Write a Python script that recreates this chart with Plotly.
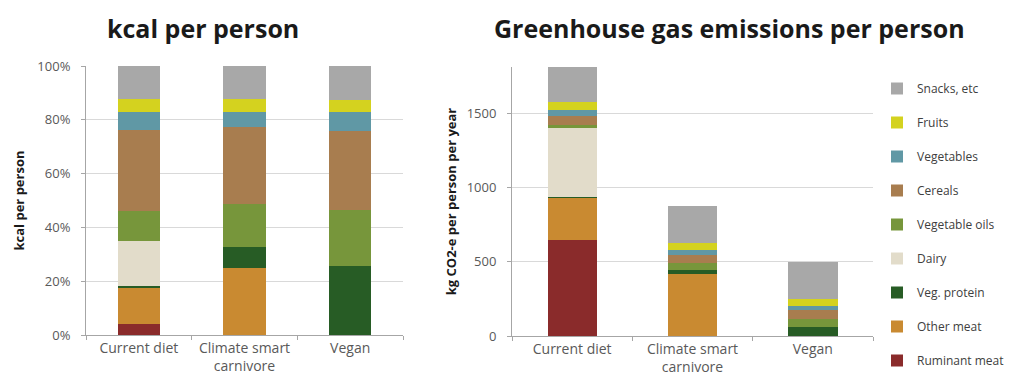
import plotly.graph_objects as go

categories = ["Current diet", "Climate smart<br>carnivore", "Vegan"]
series = ["Ruminant meat", "Other meat", "Veg. protein", "Dairy", "Vegetable oils",
          "Cereals", "Vegetables", "Fruits", "Snacks, etc"]
colors = ["#8a2b2b", "#c98a31", "#275c25", "#e2dcca", "#77963b",
          "#a87d4f", "#6098a5", "#d4d21f", "#a8a8a8"]

# kcal share (%) per category, bottom to top
kcal_ruminant = [4.1, 0, 0]
kcal_other_meat = [13.2, 24.9, 0]
kcal_veg_protein = [0.9, 8.0, 25.7]
kcal_dairy = [16.8, 0, 0]
kcal_veg_oils = [11.2, 15.7, 20.7]
kcal_cereals = [29.9, 28.8, 29.5]
kcal_vegetables = [6.9, 5.6, 7.0]
kcal_fruits = [4.7, 4.7, 4.6]
kcal_snacks = [12.3, 12.3, 12.5]

# GHG emissions (kg CO2-e per person per year)
ghg_ruminant = [647, 0, 0]
ghg_other_meat = [286, 415, 0]
ghg_veg_protein = [5, 31, 58]
ghg_dairy = [459, 0, 0]
ghg_veg_oils = [23, 45, 58]
ghg_cereals = [62, 54, 56]
ghg_vegetables = [36, 35, 33]
ghg_fruits = [56, 45, 47]
ghg_snacks = [234, 248, 248]

kcal_ticks = [0, 20, 40, 60, 80, 100]
kcal_ticktext = ["0%", "20%", "40%", "60%", "80%", "100%"]
ghg_ticks = [0, 500, 1000, 1500]

kcal = [kcal_ruminant, kcal_other_meat, kcal_veg_protein, kcal_dairy, kcal_veg_oils,
        kcal_cereals, kcal_vegetables, kcal_fruits, kcal_snacks]
ghg = [ghg_ruminant, ghg_other_meat, ghg_veg_protein, ghg_dairy, ghg_veg_oils,
       ghg_cereals, ghg_vegetables, ghg_fruits, ghg_snacks]

fig = go.Figure()
n = len(series)
for i, name in enumerate(series):
    fig.add_trace(go.Bar(x=categories, y=kcal[i], name=name, marker_color=colors[i],
                         marker_line_width=0, width=0.4, xaxis="x", yaxis="y",
                         legendgroup=name, legendrank=n - i, showlegend=True))
    fig.add_trace(go.Bar(x=categories, y=ghg[i], name=name, marker_color=colors[i],
                         marker_line_width=0, width=0.41, xaxis="x2", yaxis="y2",
                         legendgroup=name, legendrank=n - i, showlegend=False))

W, H = 1026, 385
font = "'Open Sans', sans-serif"
tick_font = dict(family=font, size=13, color="#595959")
cat_font = dict(family=font, size=14, color="#595959")
axis_common = dict(showline=True, linecolor="#a6a6a6", linewidth=1, automargin=False,
                   ticks="outside", tickcolor="#a6a6a6", ticklen=4)

fig.update_layout(
    width=W, height=H,
    margin=dict(l=0, r=0, t=0, b=0),
    paper_bgcolor="white", plot_bgcolor="white",
    barmode="stack",
    font=dict(family=font, color="#404040"),
    xaxis=dict(domain=[86 / W, 403 / W], anchor="y", tickson="boundaries",
               tickfont=cat_font, **axis_common),
    yaxis=dict(domain=[(H - 335) / H, (H - 66) / H], anchor="x", range=[0, 100],
               tickvals=kcal_ticks, ticktext=kcal_ticktext, ticklabelstandoff=8,
               showgrid=True, gridcolor="#d9d9d9", gridwidth=1,
               tickfont=tick_font,
               title=dict(text="<b>kcal per person</b>", font=dict(family=font, size=13, color="#1a1a1a"),
                          standoff=9),
               **axis_common),
    xaxis2=dict(domain=[512 / W, 873 / W], anchor="y2", tickson="boundaries",
                tickfont=cat_font, **axis_common),
    yaxis2=dict(domain=[(H - 336) / H, (H - 67) / H], anchor="x2", range=[0, 1810],
                tickvals=ghg_ticks, ticklabelstandoff=8,
                showgrid=True, gridcolor="#d9d9d9", gridwidth=1,
                tickfont=tick_font,
                title=dict(text="<b>kg CO2-e per person per year</b>",
                           font=dict(family=font, size=13, color="#1a1a1a"), standoff=7),
                **axis_common),
    legend=dict(x=877 / W, xanchor="left", y=(H - 74) / H, yanchor="top",
                traceorder="grouped", tracegroupgap=15,
                font=dict(family=font, size=12, color="#404040"),
                bgcolor="rgba(0,0,0,0)"),
    annotations=[
        dict(text="<b>kcal per person</b>", x=203 / W, y=(H - 28) / H, xref="paper", yref="paper",
             xanchor="center", yanchor="middle", showarrow=False,
             font=dict(family=font, size=25, color="#1a1a1a")),
        dict(text="<b>Greenhouse gas emissions per person</b>", x=729 / W, y=(H - 28) / H,
             xref="paper", yref="paper", xanchor="center", yanchor="middle", showarrow=False,
             font=dict(family=font, size=25, color="#1a1a1a")),
    ],
)

fig.write_html("out.html")
